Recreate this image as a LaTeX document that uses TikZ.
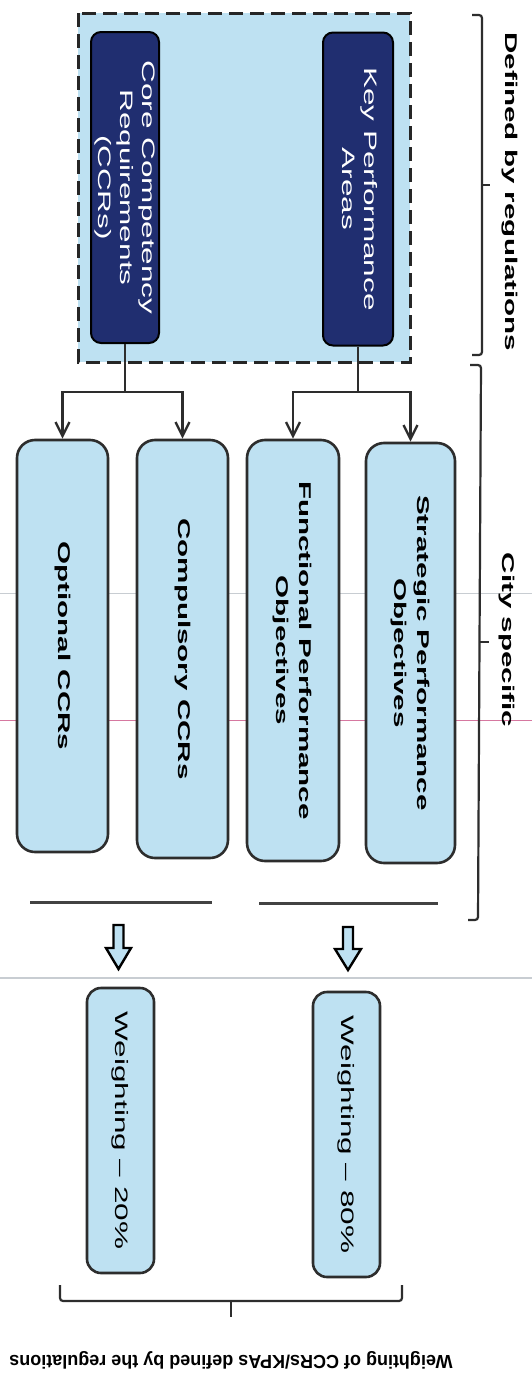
\documentclass[tikz,border=0pt]{standalone}
\usepackage{graphicx}
\usepackage{fontspec}
\setmainfont{Liberation Sans}
\usetikzlibrary{arrows.meta}
\definecolor{lb}{RGB}{190,225,242}
\definecolor{navy}{RGB}{32,46,112}
\definecolor{ln}{RGB}{45,45,45}
\definecolor{pinkart}{RGB}{214,120,160}
\definecolor{grayart}{RGB}{200,205,210}
\newcommand{\vtxt}[2][1.75]{\rotatebox{-90}{\scalebox{#1}[1]{#2}}}
\newcommand{\regf}{\fontsize{18}{22}\selectfont}
\newcommand{\boldf}{\fontsize{17}{23}\selectfont\bfseries}
\tikzset{
  darkbox/.style={draw=black, line width=2pt, fill=navy, rounded corners=10pt, inner sep=0pt, text=white},
  lightbox/.style={draw=ln, line width=2.6pt, fill=lb, rounded corners=18pt, inner sep=0pt},
  wbox/.style={draw=ln, line width=2.6pt, fill=lb, rounded corners=14pt, inner sep=0pt},
  conn/.style={draw=ln, line width=2.4pt, -{Straight Barb[length=14pt,width=14pt]}},
  plain/.style={draw=ln, line width=2.4pt},
  sepline/.style={draw=ln!90, line width=3pt},
  bracket/.style={draw=ln, line width=2.2pt, rounded corners=3pt},
  blockarrow/.style={draw=black, line width=2.4pt, fill=lb, line join=miter},
  dashbox/.style={draw=black!85, line width=3pt, dash pattern=on 14pt off 7pt, fill=lb},
  lbl/.style={inner sep=0pt}
}
\begin{document}
\begin{tikzpicture}[x=1pt,y=-1pt]
\useasboundingbox (0,0) rectangle (532,1392);
\fill[white] (0,0) rectangle (532,1392);

% scan artifacts
\draw[grayart, line width=0.8pt] (0,593) -- (532,593);
\draw[pinkart, line width=1pt] (0,720) -- (532,720);
\draw[grayart, line width=1.2pt] (0,978) -- (532,978);

% regulations box
\draw[dashbox] (78,13) rectangle (410,362);

\node[darkbox, minimum width=68, minimum height=311] (ccr) at (125,187.5)
  {\vtxt[1.75]{\regf\begin{tabular}{@{}c@{}}Core Competency\\Requirements\\(CCRs)\end{tabular}}};
\node[darkbox, minimum width=70, minimum height=313] (kpa) at (358,189)
  {\vtxt[1.75]{\regf\begin{tabular}{@{}c@{}}Key Performance\\Areas\end{tabular}}};

\node[lightbox, minimum width=91, minimum height=412] (opt) at (62.5,646)
  {\vtxt[1.74]{\boldf Optional CCRs}};
\node[lightbox, minimum width=91, minimum height=418] (comp) at (182.5,649)
  {\vtxt[1.74]{\boldf Compulsory CCRs}};
\node[lightbox, minimum width=92, minimum height=421] (func) at (293,650.5)
  {\vtxt[1.74]{\boldf\begin{tabular}{@{}c@{}}Functional Performance\\Objectives\end{tabular}}};
\node[lightbox, minimum width=89, minimum height=420] (strat) at (410.5,653)
  {\vtxt[1.74]{\boldf\begin{tabular}{@{}c@{}}Strategic Performance\\Objectives\end{tabular}}};

% connectors
\coordinate (hy) at (0,392);
\draw[plain] (ccr.south) -- (ccr.south |- hy);
\draw[conn] (ccr.south |- hy) -| (opt.north);
\draw[conn] (ccr.south |- hy) -| (comp.north);
\draw[plain] (kpa.south) -- (kpa.south |- hy);
\draw[conn] (kpa.south |- hy) -| (func.north);
\draw[conn] (kpa.south |- hy) -| (strat.north);

% separator lines
\draw[sepline] (30,902) -- (212,902);
\draw[sepline] (259,903) -- (438,903);

% block arrows
\draw[blockarrow] (113.5,925) -- (123.5,925) -- (123.5,948) -- (131,948) -- (118.5,969) -- (106,948) -- (113.5,948) -- cycle;
\draw[blockarrow] (343,927) -- (353,927) -- (353,949) -- (361,949) -- (348,970) -- (335,949) -- (343,949) -- cycle;

% weighting boxes
\node[wbox, minimum width=67, minimum height=285] (w20) at (120.5,1130.5)
  {\vtxt[1.75]{\regf Weighting -- 20\%}};
\node[wbox, minimum width=67, minimum height=285] (w80) at (346.5,1134.5)
  {\vtxt[1.75]{\regf Weighting -- 80\%}};

% right brackets
\draw[bracket] (472,15) -- (482,15) -- (482,355) -- (472,355);
\draw[bracket] (482,185) -- (490,185);
\draw[bracket] (470,365) -- (481,365) -- (478,920) -- (468,920);
\draw[bracket] (480,642) -- (489,642);
\node[lbl] (defreg) at (510,192) {\vtxt[1.74]{\boldf Defined by regulations}};
\node[lbl] (city) at (507,640) {\vtxt[1.74]{\boldf City specific}};

% bottom bracket
\draw[bracket] (60,1285) -- (60,1301) -- (402,1301) -- (402,1285);
\draw[bracket] (231,1301) -- (231,1317);
\node[lbl] (cap) at (231,1360) {\rotatebox{180}{\scalebox{1.0}[1.05]{\fontsize{18}{22}\selectfont\bfseries Weighting of CCRs/KPAs defined by the regulations}}};
\end{tikzpicture}
\end{document}
